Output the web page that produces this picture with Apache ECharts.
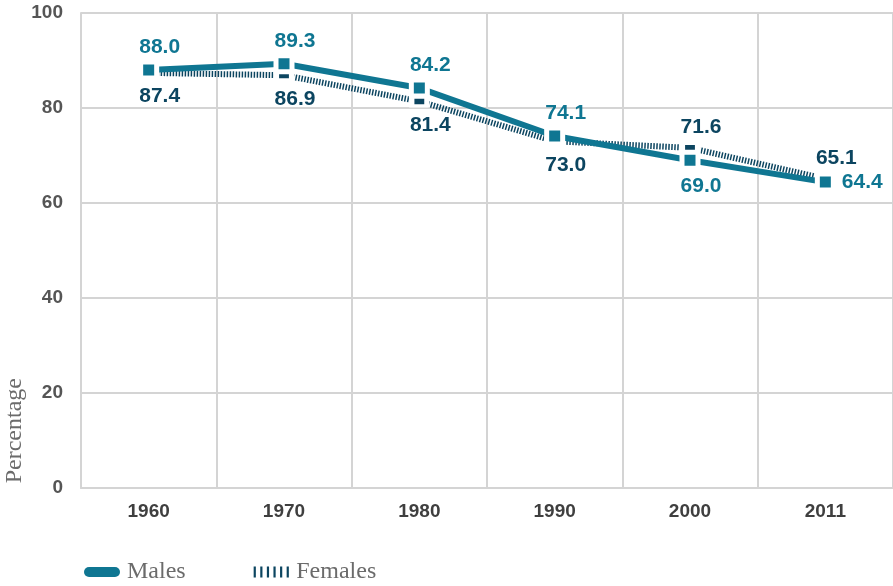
<!DOCTYPE html>
<html><head><meta charset="utf-8">
<script src="https://cdn.jsdelivr.net/npm/echarts@6/dist/echarts.min.js"></script>
<style>html,body{margin:0;padding:0;background:#fff}#c{width:893px;height:586px}</style>
</head><body><div id="c"></div>
<script>
const years = ['1960','1970','1980','1990','2000','2011'];
const males = [88.0, 89.3, 84.2, 74.1, 69.0, 64.4];
const females = [87.4, 86.9, 81.4, 73.0, 71.6, 65.1];
const yTicks = [0, 20, 40, 60, 80, 100];
const malePos = ['top','top','top','top','bottom','right'];
const femalePos = ['bottom','bottom','bottom','bottom','top','top'];

const MC = '#0f7692', FC = '#0c4560';
const labelFont = {fontFamily:'Liberation Sans, Arial, sans-serif', fontWeight:'bold', fontSize:21};
const dist = {top:[2,4], bottom:[5,7], right:[4,4]};
const offs = {top:[11,0], bottom:[11,0], right:[2,0]};

const chart = echarts.init(document.getElementById('c'));
chart.setOption({
  animation:false,
  grid:{left:81, right:0, top:13, bottom:98},
  legend:{
    left:79, bottom:-3, itemWidth:36, itemHeight:11, itemGap:68,
    textStyle:{fontFamily:'Liberation Serif, DejaVu Serif, serif', fontSize:24, color:'#6b6b6b', padding:[0,0,0,2]},
    data:[
      {name:'Males', icon:'path://M5,0h26a5,5 0 0 1 0,10h-26a5,5 0 0 1 0,-10z', itemStyle:{color:MC, borderWidth:0}},
      {name:'Females', icon:'path://M0,0h2v10h-2zM6,0h2v10h-2zM12,0h2v10h-2zM18,0h2v10h-2zM24,0h2v10h-2zM30,0h2v10h-2z', itemStyle:{color:FC, borderWidth:0}}
    ]
  },
  graphic:[{type:'text', left:3, top:378, rotation:Math.PI/2, style:{text:'Percentage', fill:'#6b6b6b', font:'24px "Liberation Serif", serif'}}],
  xAxis:{
    type:'category', data:years, boundaryGap:true,
    axisLine:{lineStyle:{color:'#d4d4d4', width:2}}, axisTick:{show:false},
    axisLabel:{margin:14, color:'#3f3f3f', fontFamily:'Liberation Sans, Arial, sans-serif', fontWeight:'bold', fontSize:19},
    splitLine:{show:true, interval:0, lineStyle:{color:'#d4d4d4', width:2}}
  },
  yAxis:{
    type:'value', min:yTicks[0], max:yTicks[yTicks.length-1], interval:20,
    axisLine:{show:true, lineStyle:{color:'#d4d4d4', width:2}}, axisTick:{show:false},
    axisLabel:{margin:18, color:'#555', fontFamily:'Liberation Sans, Arial, sans-serif', fontWeight:'bold', fontSize:19},
    splitLine:{lineStyle:{color:'#d4d4d4', width:2}}
  },
  series:[
    {
      name:'Females', type:'line', z:2,
      data:females.map((v,i)=>({value:v, label:{position:femalePos[i], distance:dist[femalePos[i]][1], offset:offs[femalePos[i]]}})),
      symbol:'rect', symbolSize:[15,9],
      itemStyle:{color:FC, borderColor:'#fff', borderWidth:4},
      lineStyle:{color:FC, width:6, type:[1.5,1.5]},
      label:{show:true, color:FC, formatter:p=>p.value.toFixed(1), ...labelFont}
    },
    {
      name:'Males', type:'line', z:3,
      data:males.map((v,i)=>({value:v, label:{position:malePos[i], distance:dist[malePos[i]][0], offset:offs[malePos[i]]}})),
      symbol:'rect', symbolSize:16,
      itemStyle:{color:MC, borderColor:'#fff', borderWidth:5},
      lineStyle:{color:MC, width:6},
      label:{show:true, color:MC, formatter:p=>p.value.toFixed(1), ...labelFont}
    }
  ]
});
</script></body></html>
